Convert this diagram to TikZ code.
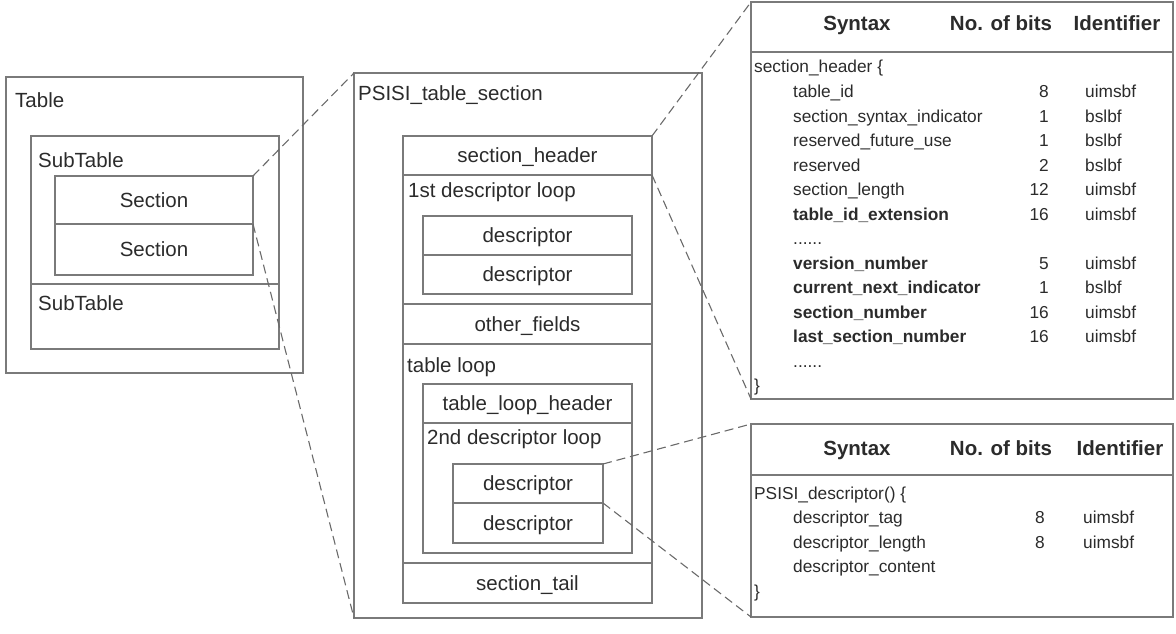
\documentclass[tikz,border=0pt]{standalone}
\usepackage{fontspec}
\setmainfont{Liberation Sans}
\definecolor{ln}{HTML}{7A7A7A}
\definecolor{dl}{HTML}{6A6A6A}
\definecolor{tx}{HTML}{2B2B2B}
\begin{document}
\begin{tikzpicture}[x=1pt,y=-1pt,
  box/.style={draw=ln, line width=1.2pt, inner sep=0pt, outer sep=0pt, rectangle},
  lbl/.style={text=tx, inner sep=0pt, font=\fontsize{20.5}{24}\selectfont},
  tb/.style={text=tx, inner sep=0pt, font=\fontsize{17.3}{20}\selectfont},
  hd/.style={text=tx, inner sep=0pt, font=\fontsize{20.5}{24}\selectfont\bfseries},
  dashline/.style={draw=dl, line width=1.1pt, dash pattern=on 9pt off 5pt}]
\useasboundingbox (0,0) rectangle (1176,634);

% ---------- left: Table ----------
\node[box, minimum width=297pt, minimum height=296pt] (table) at (154.5,225) {};
\node[box, minimum width=248pt, minimum height=148pt] (sub1) at (155,210) {};
\node[box, minimum width=248pt, minimum height=65pt] (sub2) at (155,316.5) {};
\node[box, minimum width=198pt, minimum height=48pt] (sec1) at (154,200) {};
\node[box, minimum width=198pt, minimum height=51pt] (sec2) at (154,249.5) {};
\node[lbl, anchor=base west] (tablet) at (15,107) {Table};
\node[lbl, anchor=base west] (sub1t) at (38,167) {SubTable};
\node[lbl, anchor=base west] (sub2t) at (38,310) {SubTable};
\node[lbl, anchor=base] (sec1t) at (154,207) {Section};
\node[lbl, anchor=base] (sec2t) at (154,256.5) {Section};

% ---------- middle: PSISI_table_section ----------
\node[box, minimum width=348pt, minimum height=545pt] (psisi) at (528,345.5) {};
\node[box, minimum width=249pt, minimum height=39pt] (sh) at (527.5,155.5) {};
\node[box, minimum width=249pt, minimum height=129pt] (loop1) at (527.5,239.5) {};
\node[box, minimum width=209pt, minimum height=39pt] (d1) at (527.5,235.5) {};
\node[box, minimum width=209pt, minimum height=39pt] (d2) at (527.5,274.5) {};
\node[box, minimum width=249pt, minimum height=40pt] (of) at (527.5,324) {};
\node[box, minimum width=249pt, minimum height=219pt] (tl) at (527.5,453.5) {};
\node[box, minimum width=209pt, minimum height=39pt] (tlh) at (527.5,403.5) {};
\node[box, minimum width=209pt, minimum height=130pt] (loop2) at (527.5,488) {};
\node[box, minimum width=150pt, minimum height=39pt] (d3) at (528,483.5) {};
\node[box, minimum width=150pt, minimum height=40pt] (d4) at (528,523) {};
\node[box, minimum width=249pt, minimum height=40pt] (st) at (527.5,583) {};

\node[lbl, anchor=base west] (psisit) at (358,100) {PSISI\_table\_section};
\node[lbl, anchor=base] (sht) at (527.5,162.5) {section\_header};
\node[lbl, anchor=base west] (loop1t) at (408,197) {1st descriptor loop};
\node[lbl, anchor=base] (d1t) at (527.5,242.5) {descriptor};
\node[lbl, anchor=base] (d2t) at (527.5,281.5) {descriptor};
\node[lbl, anchor=base] (oft) at (527.5,331) {other\_fields};
\node[lbl, anchor=base west] (tlt) at (407,372) {table loop};
\node[lbl, anchor=base] (tlht) at (527.5,410.5) {table\_loop\_header};
\node[lbl, anchor=base west] (loop2t) at (427,444) {2nd descriptor loop};
\node[lbl, anchor=base] (d3t) at (528,490.5) {descriptor};
\node[lbl, anchor=base] (d4t) at (528,530) {descriptor};
\node[lbl, anchor=base] (stt) at (527.5,590) {section\_tail};

% ---------- top right: section_header syntax ----------
\node[box, minimum width=422pt, minimum height=50pt] (t1h) at (962,27) {};
\node[box, minimum width=422pt, minimum height=347pt] (t1b) at (962,225.5) {};
\node[hd, anchor=base] (t1c1) at (857,31) {Syntax};
\node[hd, anchor=base] (t1c2) at (1001,31) {No. of bits};
\node[hd, anchor=base] (t1c3) at (1117,31) {Identifier};
\node[tb, anchor=base west] (t1r0) at (754,73) {section\_header \{};
\foreach \k/\s/\n/\i in {
  1/{table\_id}/8/uimsbf,
  2/{section\_syntax\_indicator}/1/bslbf,
  3/{reserved\_future\_use}/1/bslbf,
  4/{reserved}/2/bslbf,
  5/{section\_length}/12/uimsbf,
  6/{\bfseries table\_id\_extension}/16/uimsbf,
  7/{......}//,
  8/{\bfseries version\_number}/5/uimsbf,
  9/{\bfseries current\_next\_indicator}/1/bslbf,
  10/{\bfseries section\_number}/16/uimsbf,
  11/{\bfseries last\_section\_number}/16/uimsbf,
  12/{......}//}{
  \node[tb, anchor=base west] (t1s\k) at (793,{73+24.5*\k}) {\s};
  \node[tb, anchor=base east] (t1n\k) at (1049,{73+24.5*\k}) {\n};
  \node[tb, anchor=base west] (t1i\k) at (1085,{73+24.5*\k}) {\i};
}
\node[tb, anchor=base west] (t1end) at (754,391.5) {\}};

% ---------- bottom right: PSISI_descriptor syntax ----------
\node[box, minimum width=422pt, minimum height=51pt] (t2h) at (962,449.5) {};
\node[box, minimum width=422pt, minimum height=142pt] (t2b) at (962,546) {};
\node[hd, anchor=base] (t2c1) at (857,455) {Syntax};
\node[hd, anchor=base] (t2c2) at (1001,455) {No. of bits};
\node[hd, anchor=base] (t2c3) at (1120,455) {Identifier};
\node[tb, anchor=base west] (t2r0) at (754,499) {PSISI\_descriptor() \{};
\node[tb, anchor=base west] (t2s1) at (793,523.5) {descriptor\_tag};
\node[tb, anchor=base east] (t2n1) at (1045,523.5) {8};
\node[tb, anchor=base west] (t2i1) at (1083,523.5) {uimsbf};
\node[tb, anchor=base west] (t2s2) at (793,548) {descriptor\_length};
\node[tb, anchor=base east] (t2n2) at (1045,548) {8};
\node[tb, anchor=base west] (t2i2) at (1083,548) {uimsbf};
\node[tb, anchor=base west] (t2s3) at (793,572.5) {descriptor\_content};
\node[tb, anchor=base west] (t2end) at (754,597) {\}};

% ---------- dashed zoom connectors ----------
\draw[dashline] (sec1.north east) -- (psisi.north west);
\draw[dashline] (sec1.south east) -- (psisi.south west);
\draw[dashline] (sh.north east) -- (t1h.north west);
\draw[dashline] (sh.south east) -- (t1b.south west);
\draw[dashline] (d3.north east) -- (t2h.north west);
\draw[dashline] (d3.south east) -- (t2b.south west);
\end{tikzpicture}
\end{document}
